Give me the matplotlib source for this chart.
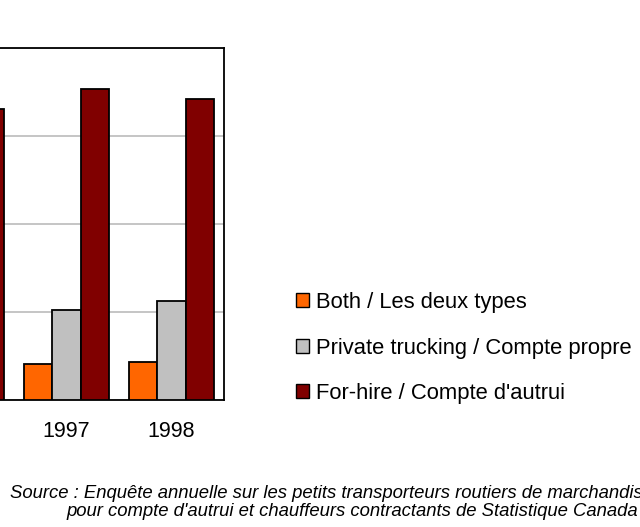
import numpy as np
import matplotlib.pyplot as plt
from matplotlib.patches import Patch

years = ['1996', '1997', '1998']
both = [9.0, 8.2, 8.6]
private = [24.0, 20.4, 22.6]
for_hire = [66.2, 70.6, 68.4]

series_names = ['Both / Les deux types',
                'Private trucking / Compte propre',
                "For-hire / Compte d'autrui"]
colors = ['#ff6600', '#c0c0c0', '#800000']

plt.rcParams['font.family'] = ['Liberation Sans', 'DejaVu Sans']

W, H = 640, 527
fig = plt.figure(figsize=(W / 100, H / 100), dpi=100)
# the picture is a crop: the plot area runs off the left edge
left_px, right_px, top_px, bot_px = -91, 224, 48, 400
ax = fig.add_axes([left_px / W, 1 - bot_px / H,
                   (right_px - left_px) / W, (bot_px - top_px) / H])

x = np.arange(len(years))
bw = 0.271
for i, (vals, c) in enumerate(zip([both, private, for_hire], colors)):
    ax.bar(x + (i - 1) * bw, vals, bw, color=c, edgecolor='black',
           linewidth=1.3, zorder=3)

ax.set_xlim(-0.5, len(years) - 0.5)
ax.set_ylim(0, 80)
ax.set_yticks([0, 20, 40, 60, 80])
ax.yaxis.grid(True, color='#c0c0c0', linewidth=1.3, zorder=0)
ax.set_xticks(x)
ax.set_xticklabels(years, fontsize=15.5)
ax.tick_params(axis='x', length=0, pad=15)
ax.tick_params(axis='y', length=0, labelleft=False)
for s in ax.spines.values():
    s.set_linewidth(1.3)

handles = [Patch(facecolor=c, edgecolor='black', linewidth=1.0) for c in colors]
fig.legend(handles, series_names, loc='upper left',
           bbox_to_anchor=(285 / W, 1 - 281 / H), frameon=False,
           fontsize=15.8, handlelength=0.6, handleheight=0.6,
           handletextpad=0.3, labelspacing=1.12, borderpad=0)

src_font = ['Liberation Sans', 'DejaVu Sans']
fig.text(10 / W, 1 - 493 / H,
         "Source : Enquête annuelle sur les petits transporteurs routiers de marchandises",
         family=src_font, style='italic', fontsize=13.3, va='center')
fig.text(66 / W, 1 - 512 / H,
         "pour compte d'autrui et chauffeurs contractants de Statistique Canada",
         family=src_font, style='italic', fontsize=13.3, va='center')

fig.savefig('out.png', dpi=100)
